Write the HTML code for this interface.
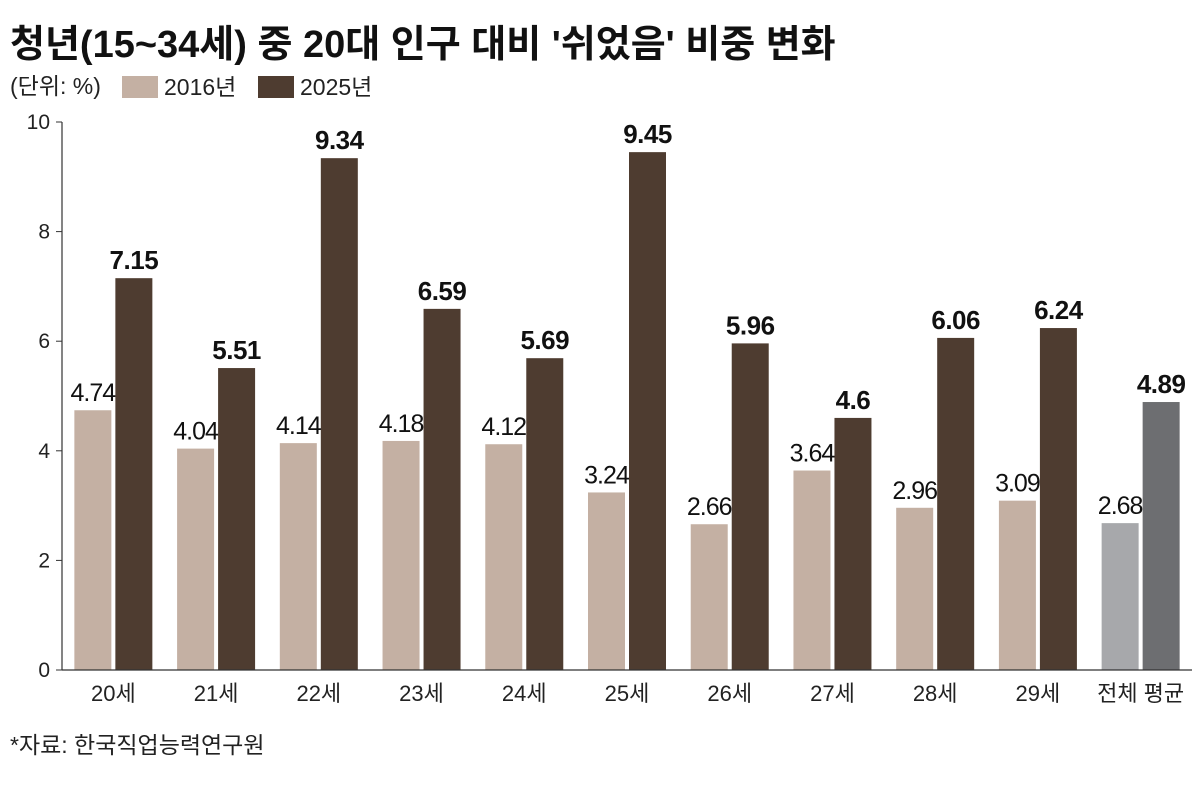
<!DOCTYPE html>
<html><head><meta charset="utf-8">
<style>
body{margin:0;background:#fff;}
svg{display:block;font-family:"Liberation Sans","Noto Sans CJK KR",sans-serif;}
</style></head>
<body>
<svg id="chart" width="1200" height="789" viewBox="0 0 1200 789">
<text x="10" y="57" font-size="38" font-weight="bold" fill="#111">청년(15~34세) 중 20대 인구 대비 '쉬었음' 비중 변화</text>
<text x="10" y="94" font-size="23" fill="#222">(단위: %)</text>
<rect x="122" y="76" width="36" height="22" fill="#c4b0a3"/>
<text x="164" y="95" font-size="23" fill="#222">2016년</text>
<rect x="258" y="76" width="36" height="22" fill="#4e3c30"/>
<text x="300" y="95" font-size="23" fill="#222">2025년</text>
<g id="plot"></g>
<text x="10" y="753" font-size="23" fill="#222">*자료: 한국직업능력연구원</text>
</svg>
<script>
const categories=["20세","21세","22세","23세","24세","25세","26세","27세","28세","29세","전체 평균"];
const values2016=[4.74,4.04,4.14,4.18,4.12,3.24,2.66,3.64,2.96,3.09,2.68];
const values2025=[7.15,5.51,9.34,6.59,5.69,9.45,5.96,4.6,6.06,6.24,4.89];
const labels2016=["4.74","4.04","4.14","4.18","4.12","3.24","2.66","3.64","2.96","3.09","2.68"];
const labels2025=["7.15","5.51","9.34","6.59","5.69","9.45","5.96","4.6","6.06","6.24","4.89"];
const yTicks=[0,2,4,6,8,10];

const NS="http://www.w3.org/2000/svg";
const g=document.getElementById('plot');
const x0=62,x1=1192,yBase=670,yTop=122,yMax=10;
const y=v=>yBase-(v/yMax)*(yBase-yTop);
const step=(x1-x0)/categories.length;
const gx=i=>x0+step*i+step/2;
const bw=37,gap=4;
function mk(tag,attrs){const e=document.createElementNS(NS,tag);for(const k in attrs)e.setAttribute(k,attrs[k]);g.appendChild(e);return e;}

yTicks.forEach(t=>{
  const tk=mk('line',{x1:x0-6,x2:x0,y1:y(t),y2:y(t),stroke:'#333','stroke-width':1});
  
  
  const tl=mk('text',{x:x0-12,y:y(t)+7,'font-size':21,'text-anchor':'end',fill:'#222'});
  tl.textContent=t;
  
  
});

categories.forEach((c,i)=>{
  const cx=gx(i);
  const last=i===categories.length-1;
  const b1=mk('rect',{x:cx-gap/2-bw,y:y(values2016[i]),width:bw,height:yBase-y(values2016[i]),fill:last?'#a7a8ab':'#c4b0a3'});
  
  
  const b2=mk('rect',{x:cx+gap/2,y:y(values2025[i]),width:bw,height:yBase-y(values2025[i]),fill:last?'#6d6e71':'#4e3c30'});
  
  
  const l1=mk('text',{x:cx-gap/2-bw/2,y:y(values2016[i])-9,'font-size':25,'text-anchor':'middle',fill:'#111','letter-spacing':'-1'});
  l1.textContent=labels2016[i];
  
  
  const l2=mk('text',{x:cx+gap/2+bw/2,y:y(values2025[i])-9,'font-size':26,'font-weight':'bold','text-anchor':'middle',fill:'#111','letter-spacing':'-0.5'});
  l2.textContent=labels2025[i];
  
  
  const xl=mk('text',{x:cx,y:yBase+31,'font-size':22,'text-anchor':'middle',fill:'#222'});
  xl.textContent=c;
  
  
});

const ya=mk('line',{x1:x0,x2:x0,y1:yTop,y2:yBase,stroke:'#333','stroke-width':1.2});


const xa=mk('line',{x1:x0,x2:x1,y1:yBase,y2:yBase,stroke:'#333','stroke-width':1.2});


</script>
</body></html>
